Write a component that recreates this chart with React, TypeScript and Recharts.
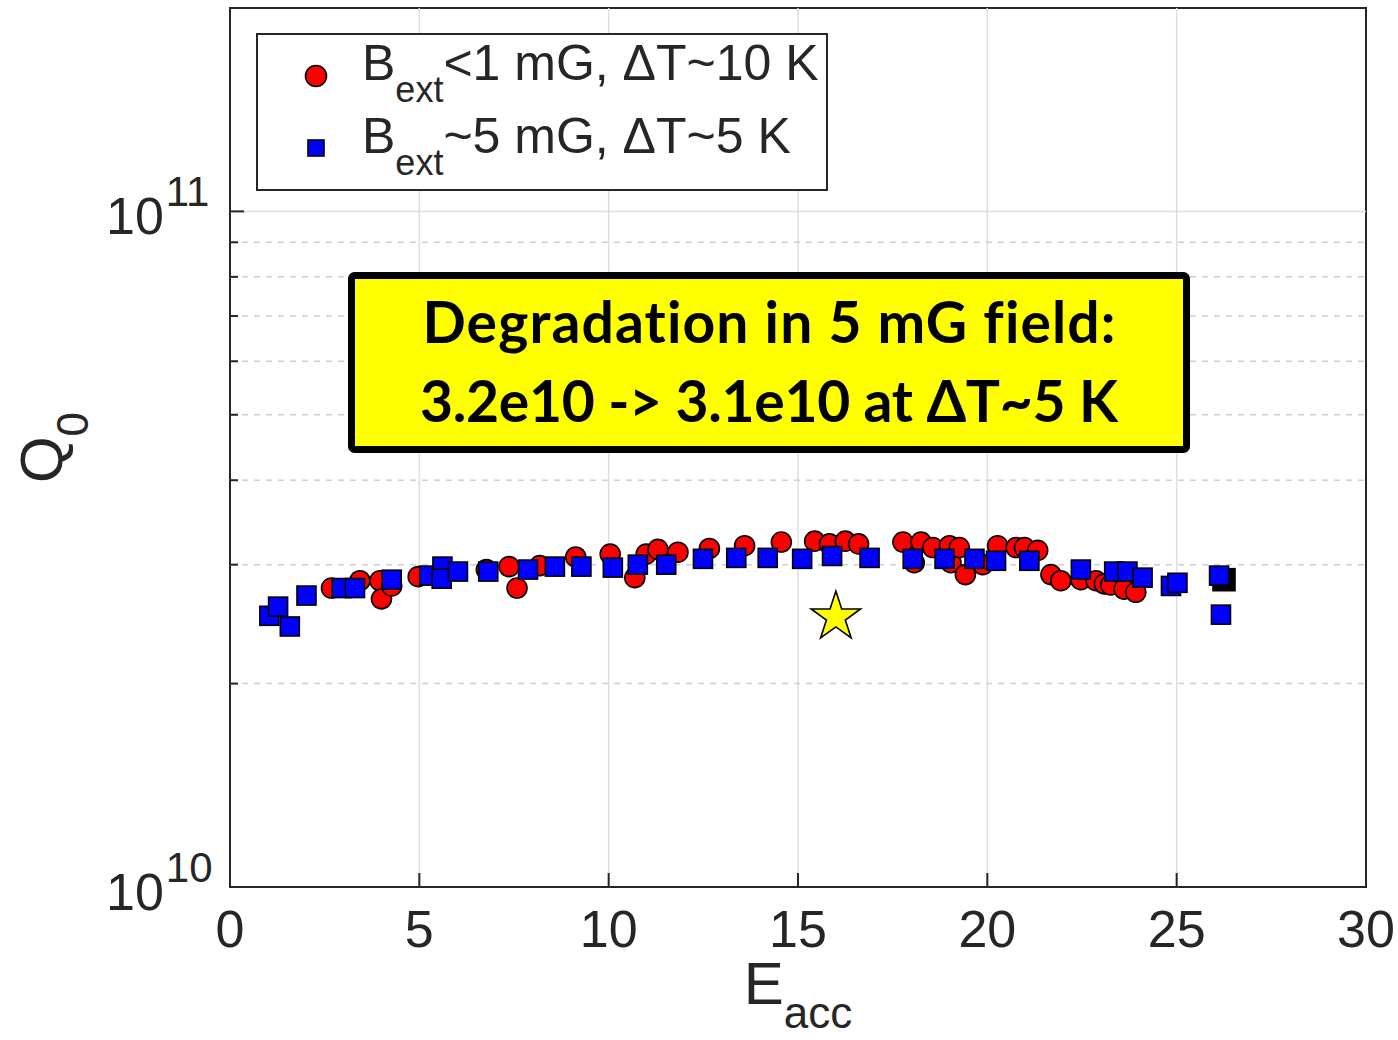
import React from "react";
import {
  ScatterChart,
  Scatter,
  XAxis,
  YAxis,
  ReferenceLine,
  ReferenceArea,
  Legend,
} from "recharts";

// Q0 values are in units of 1e10
const lowFieldE = [
  2.68, 3.43, 3.96, 4.0, 4.27, 4.97, 6.77, 7.37, 7.58, 8.18, 9.13, 10.04, 10.69,
  10.99, 11.3, 11.83, 12.66, 13.59, 14.56, 15.44, 15.83, 16.25, 16.6, 17.77,
  18.07, 18.25, 18.56, 19.0, 19.04, 19.26, 19.42, 19.88, 20.27, 20.76, 20.98,
  21.33, 21.68, 21.94, 22.47, 22.87, 23.09, 23.26, 23.61, 23.92,
];
const lowFieldQ = [
  2.77, 2.84, 2.84, 2.67, 2.79, 2.88, 2.95, 2.98, 2.77, 2.99, 3.08, 3.11, 2.87,
  3.11, 3.16, 3.13, 3.17, 3.2, 3.24, 3.25, 3.22, 3.25, 3.22, 3.24, 3.02, 3.24,
  3.18, 3.2, 3.02, 3.18, 2.9, 3.0, 3.2, 3.18, 3.18, 3.15, 2.9, 2.84, 2.85, 2.84,
  2.81, 2.8, 2.76, 2.73,
];
const highFieldE = [
  1.04, 1.27, 1.58, 2.02, 2.95, 3.3, 4.27, 5.26, 5.61, 5.59, 6.02, 6.82, 7.87,
  8.58, 9.28, 10.11, 10.77, 11.52, 12.49, 13.37, 14.2, 15.11, 15.9, 16.89,
  18.03, 18.87, 19.66, 20.23, 21.11, 22.47, 23.35, 23.7, 24.1, 24.85, 25.02,
  26.12, 26.17,
];
const highFieldQ = [
  2.52, 2.6, 2.43, 2.7, 2.77, 2.77, 2.85, 2.89, 2.98, 2.86, 2.93, 2.93, 2.95,
  2.98, 2.98, 2.97, 3.0, 3.0, 3.06, 3.07, 3.07, 3.06, 3.09, 3.07, 3.06, 3.06,
  3.06, 3.04, 3.04, 2.95, 2.93, 2.93, 2.87, 2.79, 2.82, 2.89, 2.53,
];
const stackedE = [26.25];
const stackedQ = [2.85];
const starE = [16.0];
const starQ = [2.51];

const xTicks = [0, 5, 10, 15, 20, 25, 30];
const xGrid = [5, 10, 15, 20, 25];
const yTicks = [1e10, 2e10, 3e10, 4e10, 5e10, 6e10, 7e10, 8e10, 9e10, 1e11];
const yMinorGrid = [2e10, 3e10, 4e10, 5e10, 6e10, 7e10, 8e10, 9e10];
const legendLabels = [
  { main: "B", sub: "ext", rest: "<1 mG, ΔT~10 K" },
  { main: "B", sub: "ext", rest: "~5 mG, ΔT~5 K" },
];
const noteLines = ["Degradation in 5 mG field:", "3.2e10 -> 3.1e10 at ΔT~5 K"];
const noteWidths = [693, 698];

const toPoints = (e: number[], q: number[]) =>
  e.map((x, i) => ({ x, y: q[i] * 1e10 }));

const FONT = '"Liberation Sans", Arial, Helvetica, sans-serif';
const INK = "#262626";

const isDecade = (v: number) => Math.abs(Math.log10(v) - Math.round(Math.log10(v))) < 1e-9;

const YTickLeft = (props: any) => {
  const { x, y, payload } = props;
  const major = isDecade(payload.value);
  const exp = Math.round(Math.log10(payload.value));
  return (
    <g>
      <line x1={x} x2={x + (major ? 14 : 8)} y1={y} y2={y} stroke={INK} strokeWidth={2} />
      {major && (
        <text x={x - 124} y={y + 23} fill={INK} fontSize={52} fontFamily={FONT}>
          10
          <tspan fontSize={42} dx={2} dy={-28}>
            {exp}
          </tspan>
        </text>
      )}
    </g>
  );
};

const YTickRight = (props: any) => {
  const { x, y, payload } = props;
  const major = isDecade(payload.value);
  return <line x1={x} x2={x - (major ? 14 : 8)} y1={y} y2={y} stroke={INK} strokeWidth={2} />;
};

const XTickBottom = (props: any) => {
  const { x, y, payload } = props;
  return (
    <g>
      <line x1={x} x2={x} y1={y} y2={y - 14} stroke={INK} strokeWidth={2} />
      <text x={x} y={y + 60} textAnchor="middle" fill={INK} fontSize={52} fontFamily={FONT}>
        {payload.value}
      </text>
    </g>
  );
};

const XTickTop = (props: any) => {
  const { x, y } = props;
  return <line x1={x} x2={x} y1={y} y2={y + 14} stroke={INK} strokeWidth={2} />;
};

const renderXLabel = (props: any) => {
  const vb = props.viewBox || { x: 230, y: 887, width: 1136 };
  const cx = vb.x + vb.width / 2;
  return (
    <text x={cx} y={vb.y + 117} textAnchor="middle" fill={INK} fontSize={60} fontFamily={FONT}>
      E
      <tspan fontSize={44} dy={24}>
        acc
      </tspan>
    </text>
  );
};

const renderYLabel = (props: any) => {
  const vb = props.viewBox || { x: 0, y: 8, height: 879 };
  const cx = 62;
  const cy = vb.y + vb.height / 2;
  return (
    <text
      x={cx}
      y={cy}
      transform={`rotate(-90, ${cx}, ${cy})`}
      textAnchor="middle"
      fill={INK}
      fontSize={60}
      fontFamily={FONT}
    >
      Q
      <tspan fontSize={44} dy={26}>
        0
      </tspan>
    </text>
  );
};

const Circle = (p: any) => (
  <circle cx={p.cx} cy={p.cy} r={10} fill="#ff0000" stroke="#000" strokeWidth={1.6} />
);
const Square = (p: any) => (
  <rect x={p.cx - 9.5} y={p.cy - 9.5} width={19} height={19} fill="#0000ff" stroke="#000" strokeWidth={1.6} />
);
const DarkSquare = (p: any) => (
  <rect x={p.cx - 11} y={p.cy - 11} width={22} height={22} fill="#000" stroke="#000" strokeWidth={1.6} />
);
const Star = (p: any) => {
  const R = 26;
  const r = R * 0.382;
  const pts = [];
  for (let i = 0; i < 10; i++) {
    const rad = i % 2 === 0 ? R : r;
    const a = -Math.PI / 2 + (i * Math.PI) / 5;
    pts.push(`${p.cx + rad * Math.cos(a)},${p.cy + rad * Math.sin(a)}`);
  }
  return <polygon points={pts.join(" ")} fill="#ffff00" stroke="#000" strokeWidth={1.6} />;
};

const LegendBox = () => (
  <svg width={572} height={158} style={{ display: "block" }}>
    <rect x={1} y={1} width={570} height={156} fill="#fff" stroke={INK} strokeWidth={2} />
    <circle cx={60} cy={43} r={10.5} fill="#ff0000" stroke="#000" strokeWidth={1.6} />
    <rect x={52} y={107} width={16} height={16} fill="#0000ff" stroke="#000" strokeWidth={1.6} />
    {legendLabels.map((l, i) => (
      <text key={i} x={106} y={47 + i * 73} fill={INK} fontSize={50} fontFamily={FONT}>
        {l.main}
        <tspan fontSize={36} dy={22}>
          {l.sub}
        </tspan>
        <tspan dy={-22}>{l.rest}</tspan>
      </text>
    ))}
  </svg>
);

export default function App() {
  return (
    <div style={{ position: "absolute", left: 0, top: 0, width: 1398, height: 1040, background: "#fff" }}>
      <ScatterChart width={1398} height={1040} margin={{ top: 8, right: 32, bottom: 0, left: 0 }}>
        <XAxis
          dataKey="x"
          type="number"
          domain={[0, 30]}
          ticks={xTicks}
          allowDataOverflow
          height={153}
          axisLine={false}
          tickLine={false}
          tickSize={0}
          tickMargin={0}
          tick={<XTickBottom />}
          label={{ content: renderXLabel }}
        />
        <XAxis
          xAxisId="top"
          orientation="top"
          dataKey="x"
          type="number"
          domain={[0, 30]}
          ticks={xTicks}
          allowDataOverflow
          height={0}
          axisLine={false}
          tickLine={false}
          tickSize={0}
          tickMargin={0}
          tick={<XTickTop />}
        />
        <YAxis
          dataKey="y"
          type="number"
          scale="log"
          domain={[1e10, 2e11]}
          ticks={yTicks}
          allowDataOverflow
          width={230}
          axisLine={false}
          tickLine={false}
          tickSize={0}
          tickMargin={0}
          tick={<YTickLeft />}
          label={{ content: renderYLabel }}
        />
        <YAxis
          yAxisId="right"
          orientation="right"
          dataKey="y"
          type="number"
          scale="log"
          domain={[1e10, 2e11]}
          ticks={yTicks}
          allowDataOverflow
          width={0}
          axisLine={false}
          tickLine={false}
          tickSize={0}
          tickMargin={0}
          tick={<YTickRight />}
        />
        {xGrid.map((v) => (
          <ReferenceLine key={`gx${v}`} x={v} stroke="#dedede" strokeWidth={1.5} />
        ))}
        {yMinorGrid.map((v) => (
          <ReferenceLine key={`gy${v}`} y={v} stroke="#cfcfcf" strokeWidth={1.5} strokeDasharray="6 6" />
        ))}
        <ReferenceLine y={1e11} stroke="#dedede" strokeWidth={1.5} />
        <ReferenceArea x1={0} x2={30} y1={1e10} y2={2e11} fill="none" stroke={INK} strokeWidth={2} ifOverflow="visible" />
        <Scatter
          name="low"
          data={toPoints(lowFieldE, lowFieldQ)}
          shape={Circle}
          isAnimationActive={false}
        />
        <Scatter
          name="stacked"
          data={toPoints(stackedE, stackedQ)}
          shape={DarkSquare}
          legendType="none"
          isAnimationActive={false}
        />
        <Scatter
          name="high"
          data={toPoints(highFieldE, highFieldQ)}
          shape={Square}
          isAnimationActive={false}
        />
        <Scatter
          name="star"
          data={toPoints(starE, starQ)}
          shape={Star}
          legendType="none"
          isAnimationActive={false}
        />
        <Legend
          layout="vertical"
          align="center"
          verticalAlign="middle"
          content={() => <LegendBox />}
          wrapperStyle={{ position: "absolute", left: 256, top: 33, width: 572, height: 158 }}
        />
      </ScatterChart>
      <svg
        width={1398}
        height={1040}
        style={{ position: "absolute", left: 0, top: 0, pointerEvents: "none" }}
      >
        <rect x={351.5} y={275.5} width={835} height={174} rx={3} fill="#ffff00" stroke="#000" strokeWidth={7} />
        {noteLines.map((t, i) => (
          <text
            key={i}
            x={769}
            y={343 + i * 79}
            textAnchor="middle"
            textLength={noteWidths[i]}
            lengthAdjust="spacing"
            fill="#000"
            fontSize={57}
            fontWeight="bold"
            fontFamily="Lato, 'Open Sans', sans-serif"
            style={{ fontVariantLigatures: "none" }}
          >
            {t}
          </text>
        ))}
      </svg>
    </div>
  );
}
